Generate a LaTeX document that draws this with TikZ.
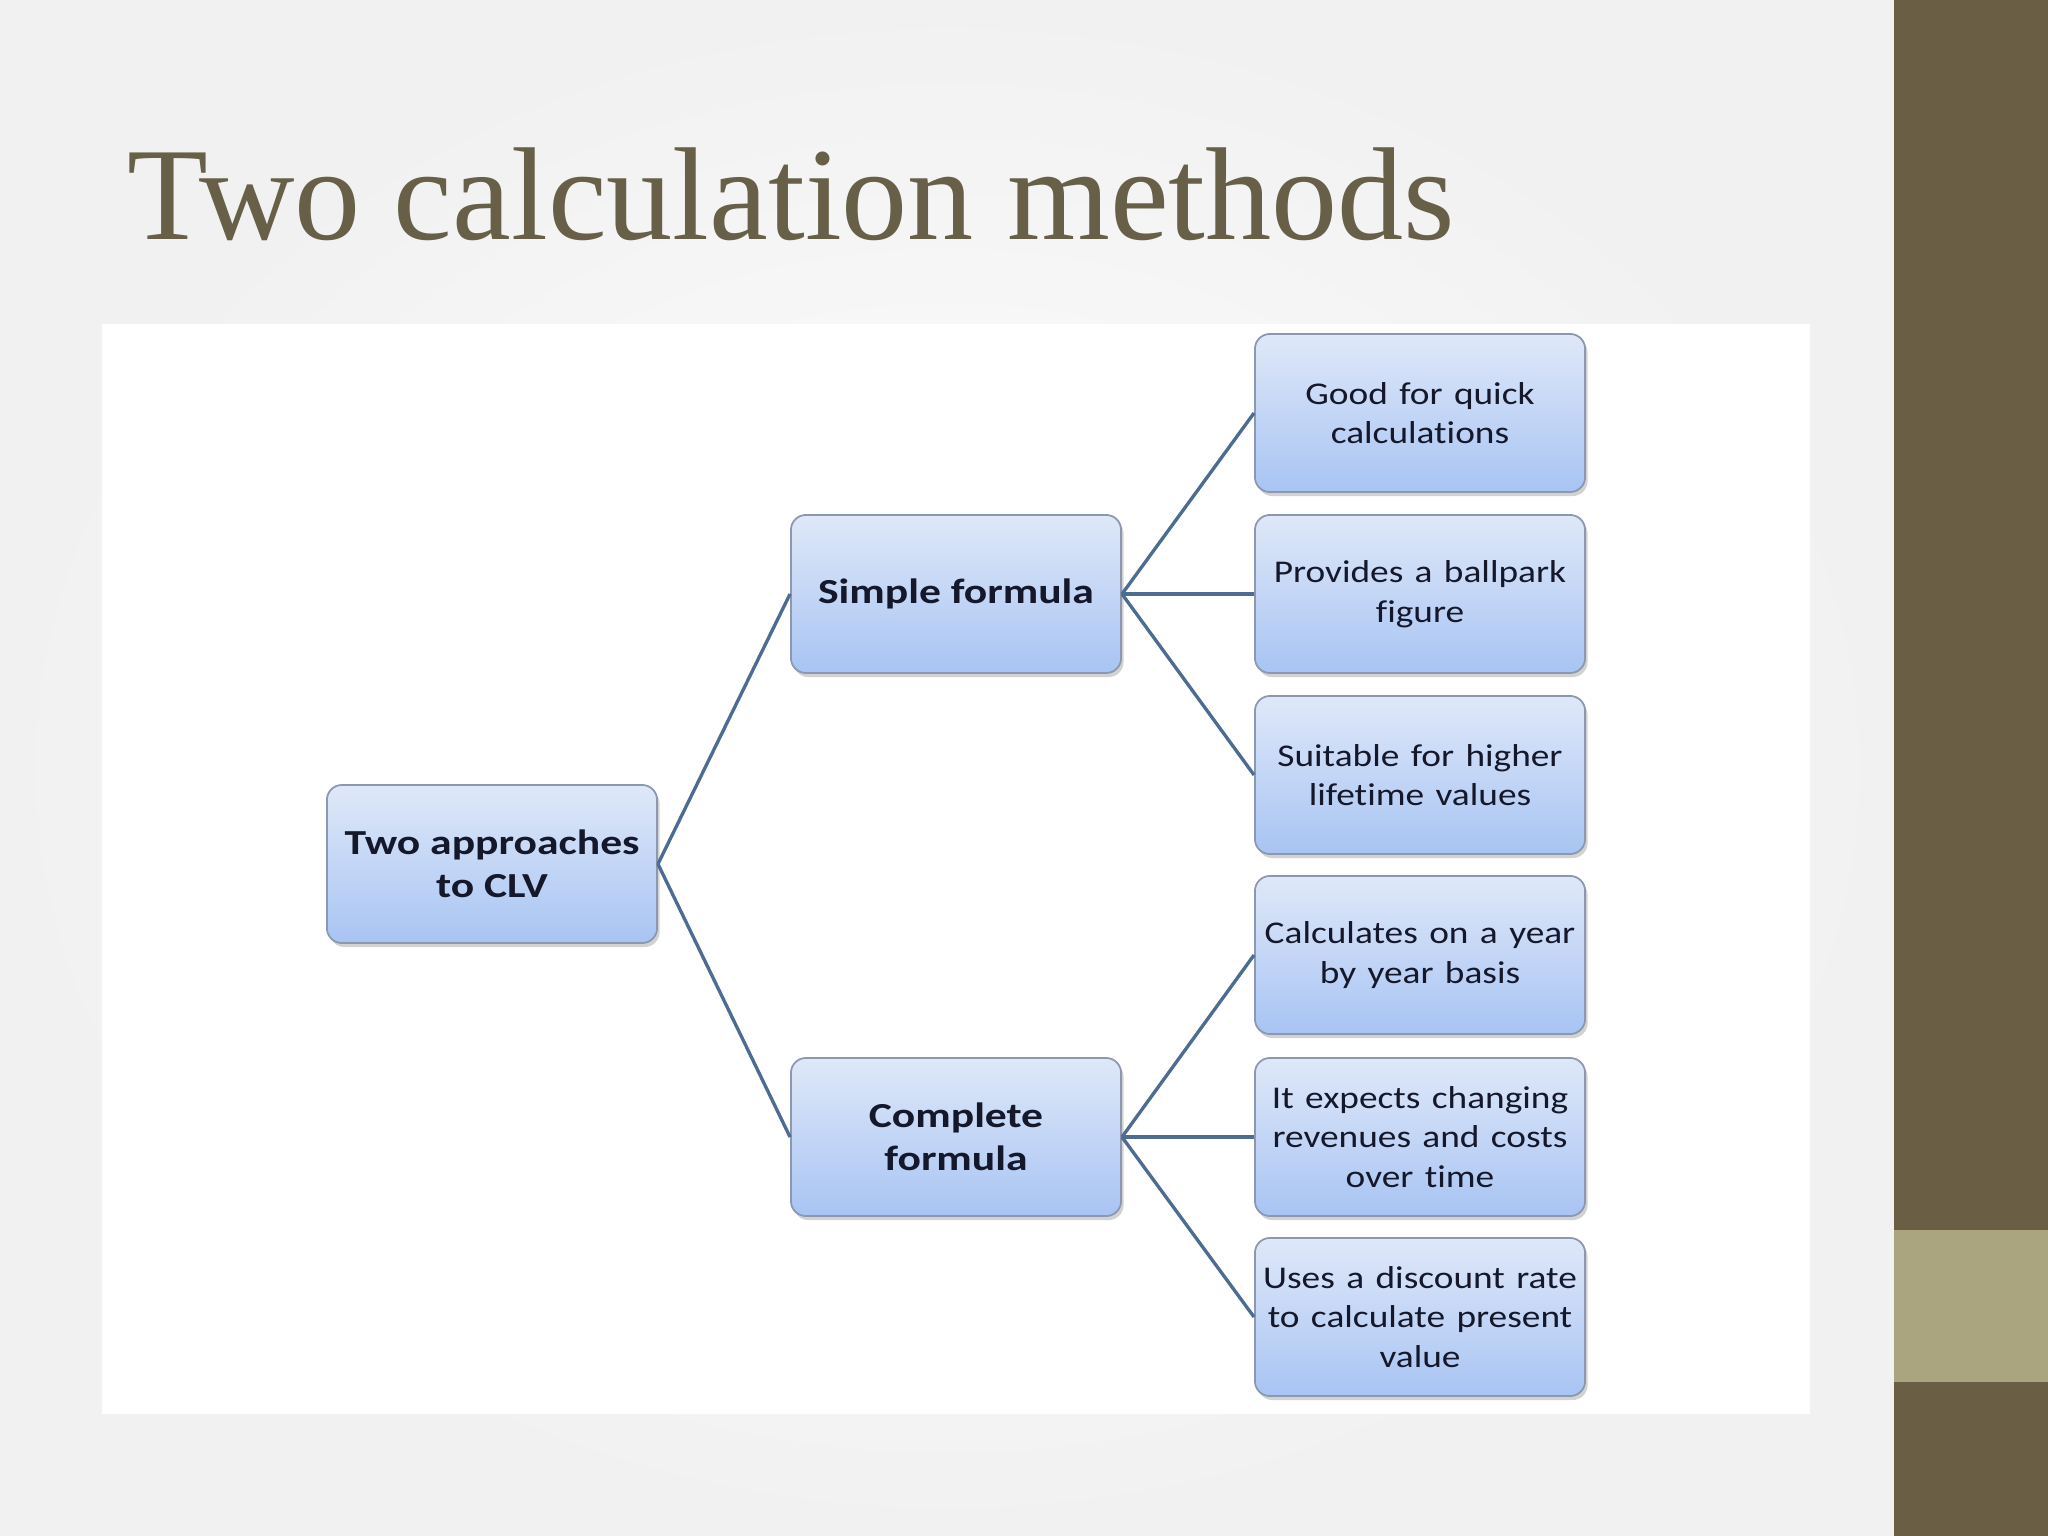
\documentclass[tikz,border=0pt]{standalone}
\usepackage{fontspec}
\usetikzlibrary{shadows}
\newfontfamily\titlefont{Liberation Serif}
\newfontfamily\boxfont{Carlito}[FakeStretch=1.18,WordSpace=1.35,Ligatures=NoCommon]
\newfontfamily\boxboldfont{Carlito}[FakeStretch=1.24,Ligatures=NoCommon]
\newcommand\nolig{\kern0pt{}}
\definecolor{sidebar}{HTML}{6A5F45}
\definecolor{sideband}{HTML}{AAA57E}
\definecolor{titlecol}{HTML}{675F48}
\definecolor{linecol}{HTML}{4D6C92}
\definecolor{boxtop}{HTML}{DFE8F9}
\definecolor{boxbot}{HTML}{A8C4F3}
\definecolor{boxedge}{HTML}{8B98AE}
\definecolor{textcol}{HTML}{15182A}
\tikzset{
  box/.style={rectangle, rounded corners=0.15cm, draw=boxedge, line width=0.5pt,
    top color=boxtop, bottom color=boxbot, minimum width=3.3cm, minimum height=1.58cm,
    align=center, text=textcol, inner sep=0pt,
    drop shadow={shadow xshift=0.025cm, shadow yshift=-0.04cm, opacity=0.35, fill=gray}},
  leafbox/.style={box, font=\boxfont\fontsize{9}{11.3}\selectfont},
  mainbox/.style={box, font=\boxboldfont\bfseries\fontsize{10}{12.2}\selectfont},
  conn/.style={draw=linecol, line width=0.95pt}
}
\begin{document}
\begin{tikzpicture}[x=0.01cm,y=-0.01cm]
\useasboundingbox (0,0) rectangle (2048,1536);
\shade[inner color=white, outer color=gray!11] (0,0) rectangle (1894,1536);
\fill[sidebar] (1894,0) rectangle (2048,1536);
\fill[sideband] (1894,1230) rectangle (2048,1382);
\fill[white] (102,324) rectangle (1810,1414);
\node[anchor=base west, inner sep=0pt, text=titlecol, font=\titlefont\fontsize{37.6}{40}\selectfont] (title) at (127,239) {Two calculation methods};

\node[mainbox] (root) at (492,864) {Two approaches\\to CLV};
\node[mainbox] (simple) at (956,594) {Simple formula};
\node[mainbox] (complete) at (956,1137) {Complete\\formula};

\node[leafbox] (l1) at (1420,413) {Good for quick\\calculat\nolig ions};
\node[leafbox] (l2) at (1420,594) {Provides a ballpark\\figure};
\node[leafbox] (l3) at (1420,775) {Suitable for higher\\lifet\nolig ime values};
\node[leafbox] (l4) at (1420,955) {Calculates on a year\\by year basis};
\node[leafbox] (l5) at (1420,1137) {It expects changing\\revenues and costs\\over time};
\node[leafbox] (l6) at (1420,1317) {Uses a discount rate\\to calculate present\\value};

\draw[conn] (root.east) -- (simple.west);
\draw[conn] (root.east) -- (complete.west);
\foreach \n in {l1,l2,l3} \draw[conn] (simple.east) -- (\n.west);
\foreach \n in {l4,l5,l6} \draw[conn] (complete.east) -- (\n.west);
\end{tikzpicture}
\end{document}
